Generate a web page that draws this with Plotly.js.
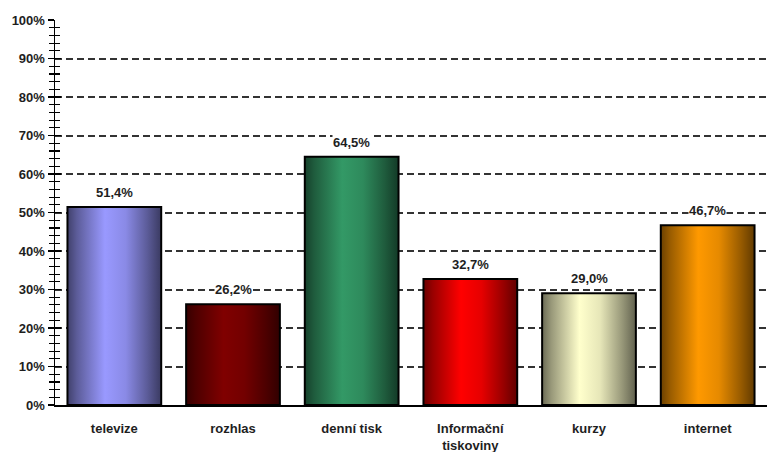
<!DOCTYPE html>
<html>
<head>
<meta charset="utf-8">
<script src="https://cdn.plot.ly/plotly-3.0.1.min.js"></script>
<style>
  html, body { margin: 0; padding: 0; background: #ffffff; }
  #chart { width: 767px; height: 452px; }
</style>
</head>
<body>
<div id="chart"></div>
<script>
// Media channels and the share of respondents using each one (%)
const categories = ['televize', 'rozhlas', 'denní tisk', 'Informační<br>tiskoviny', 'kurzy', 'internet'];
const shares = [51.4, 26.2, 64.5, 32.7, 29.0, 46.7];
// Base colour of each bar (brightest band of its shading)
const barColors = ['#9999ff', '#800000', '#339966', '#ff0000', '#ffffcc', '#ff9900'];

const FONT = 'Liberation Sans, Arial, Helvetica, sans-serif';
const TXT = { family: FONT, size: 13, color: '#1e1e1e', weight: 700 };

function fmtPct(v) {
  return v.toFixed(1).replace('.', ',') + '%';
}

function shade(hex, f) {
  const n = parseInt(hex.slice(1), 16);
  const r = Math.round(((n >> 16) & 255) * f);
  const g = Math.round(((n >> 8) & 255) * f);
  const b = Math.round((n & 255) * f);
  return `rgb(${r},${g},${b})`;
}

const bars = {
  type: 'bar',
  x: categories,
  y: shares,
  marker: {
    color: barColors,
    line: { color: '#000000', width: 2 }
  },
  hoverinfo: 'none'
};

// Invisible companion trace so the inner tick axis gets drawn
const tickCarrier = {
  type: 'scatter',
  x: categories,
  y: shares,
  yaxis: 'y2',
  mode: 'markers',
  marker: { opacity: 0 },
  hoverinfo: 'skip'
};

const labels = shares.map((v, i) => ({
  x: categories[i],
  y: v,
  xref: 'x',
  yref: 'y',
  text: fmtPct(v),
  showarrow: false,
  yanchor: 'bottom',
  yshift: 6,
  bgcolor: '#ffffff',
  borderpad: 0,
  font: TXT
}));

const tickCommon = {
  range: [0, 100],
  tickmode: 'linear',
  tick0: 0,
  dtick: 10,
  ticklen: 6,
  tickwidth: 1.3,
  tickcolor: '#000000',
  fixedrange: true
};
const minorCommon = { dtick: 2, ticklen: 5, tickwidth: 1.2, tickcolor: '#000000', showgrid: false };

const layout = {
  width: 767,
  height: 452,
  margin: { l: 55, r: 0, t: 20, b: 47 },
  paper_bgcolor: '#ffffff',
  plot_bgcolor: '#ffffff',
  showlegend: false,
  bargap: 0.21,
  font: TXT,
  xaxis: {
    showline: true,
    linecolor: '#000000',
    linewidth: 1.5,
    ticks: '',
    ticklabelstandoff: 11,
    tickfont: TXT,
    fixedrange: true
  },
  yaxis: Object.assign({}, tickCommon, {
    ticks: 'outside',
    minor: Object.assign({}, minorCommon, { ticks: 'outside' }),
    ticksuffix: '%',
    showline: true,
    linecolor: '#000000',
    linewidth: 1.5,
    showgrid: true,
    gridcolor: '#333333',
    gridwidth: 2,
    griddash: '7px,4px',
    zeroline: false,
    tickfont: TXT
  }),
  yaxis2: Object.assign({}, tickCommon, {
    overlaying: 'y',
    anchor: 'x',
    side: 'left',
    ticks: 'inside',
    minor: Object.assign({}, minorCommon, { ticks: 'inside' }),
    showticklabels: false,
    showgrid: false,
    zeroline: false,
    showline: false
  }),
  annotations: labels
};

Plotly.newPlot('chart', [bars, tickCarrier], layout, { displayModeBar: false, staticPlot: true }).then(gd => {
  // Cylinder-like horizontal shading for each bar
  const svg = gd.querySelector('svg.main-svg');
  const NS = 'http://www.w3.org/2000/svg';
  let defs = svg.querySelector('defs');
  if (!defs) { defs = document.createElementNS(NS, 'defs'); svg.insertBefore(defs, svg.firstChild); }
  barColors.forEach((c, i) => {
    const g = document.createElementNS(NS, 'linearGradient');
    g.setAttribute('id', 'barShade' + i);
    g.setAttribute('x1', '0'); g.setAttribute('x2', '1');
    g.setAttribute('y1', '0'); g.setAttribute('y2', '0');
    [[0, 0.42], [0.1, 0.6], [0.4, 1.0], [0.62, 0.9], [0.85, 0.6], [1, 0.38]].forEach(([o, f]) => {
      const s = document.createElementNS(NS, 'stop');
      s.setAttribute('offset', o);
      s.setAttribute('stop-color', shade(c, f));
      g.appendChild(s);
    });
    defs.appendChild(g);
  });
  gd.querySelectorAll('.barlayer .point path').forEach((p, i) => {
    p.style.fill = `url(#barShade${i})`;
  });
});
</script>
</body>
</html>
